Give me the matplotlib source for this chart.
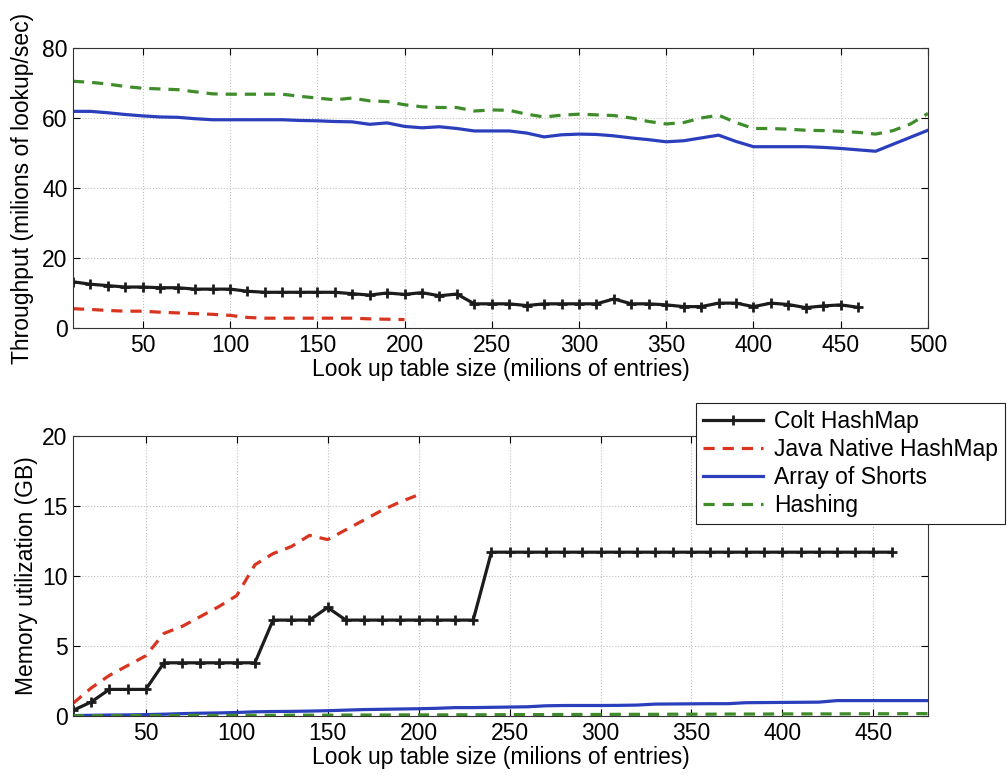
import numpy as np
import matplotlib
matplotlib.use('Agg')
import matplotlib.pyplot as plt

plt.rcParams['font.family'] = ['Liberation Sans', 'DejaVu Sans']
fs = 16.5
plt.rcParams['font.size'] = fs

# Series labels and colours
labels = ['Colt HashMap', 'Java Native HashMap', 'Array of Shorts', 'Hashing']
colors = ['#1c1c1c', '#d8341f', '#2b3fbd', '#3f8c2b']

# Top chart: throughput (millions of lookup/sec)
x_colt = list(range(10, 470, 10))
colt_tp = [13.2, 12.5, 12.1, 11.7, 11.7, 11.5, 11.5, 11.1, 11.1, 11.1,
           10.5, 10.2, 10.2, 10.2, 10.2, 10.2, 9.8, 9.4, 10.0, 9.6,
           10.1, 9.2, 9.7, 6.9, 6.9, 6.9, 6.4, 6.9, 6.9, 6.9,
           6.9, 8.3, 6.9, 6.9, 6.6, 6.1, 6.1, 7.1, 7.1, 6.1,
           7.1, 6.7, 5.8, 6.3, 6.6, 5.9]
x_java = list(range(10, 210, 10))
java_tp = [5.5, 5.3, 5.0, 4.8, 4.8, 4.5, 4.3, 4.1, 3.9, 3.6,
           3.0, 2.8, 2.8, 2.8, 2.8, 2.8, 2.8, 2.6, 2.5, 2.4]
x_full = list(range(10, 510, 10))
shorts_tp = [61.9, 61.9, 61.5, 61.0, 60.6, 60.3, 60.2, 59.8, 59.5, 59.5,
             59.5, 59.5, 59.5, 59.3, 59.2, 59.0, 58.9, 58.2, 58.6, 57.6,
             57.2, 57.5, 57.0, 56.3, 56.3, 56.3, 55.7, 54.6, 55.2, 55.4,
             55.3, 54.9, 54.3, 53.8, 53.2, 53.5, 54.3, 55.1, 53.3, 51.8,
             51.8, 51.8, 51.8, 51.6, 51.3, 50.9, 50.5, 52.5, 54.5, 56.5]
hashing_tp = [70.5, 70.2, 69.7, 69.0, 68.5, 68.3, 68.1, 67.5, 66.9, 66.8,
              66.8, 66.8, 66.8, 66.2, 65.7, 65.2, 65.7, 64.9, 64.7, 63.8,
              63.2, 63.0, 63.0, 62.0, 62.3, 62.2, 61.1, 60.3, 60.8, 61.1,
              60.9, 60.7, 60.0, 59.0, 58.3, 58.7, 60.0, 60.8, 58.7, 57.0,
              57.0, 56.8, 56.5, 56.4, 56.2, 55.9, 55.4, 56.4, 58.3, 61.3]

# Bottom chart: memory utilization (GB)
colt_mem = [0.4, 1.0, 1.9, 1.9, 1.9, 3.8, 3.8, 3.8, 3.8, 3.8,
            3.8, 6.85, 6.85, 6.85, 7.75, 6.85, 6.85, 6.85, 6.85, 6.85,
            6.85, 6.85, 6.85, 11.7, 11.7, 11.7, 11.7, 11.7, 11.7, 11.7,
            11.7, 11.7, 11.7, 11.7, 11.7, 11.7, 11.7, 11.7, 11.7, 11.7,
            11.7, 11.7, 11.7, 11.7, 11.7, 11.7]
java_mem = [0.9, 2.0, 2.9, 3.6, 4.3, 5.9, 6.4, 7.1, 7.8, 8.6,
            10.8, 11.6, 12.1, 12.9, 12.6, 13.3, 14.0, 14.7, 15.3, 15.8]
x_mem = list(range(10, 490, 10))
shorts_mem = [0.03, 0.05, 0.07, 0.08, 0.10, 0.13, 0.17, 0.20, 0.22, 0.25,
              0.30, 0.32, 0.33, 0.35, 0.38, 0.42, 0.46, 0.48, 0.50, 0.52,
              0.55, 0.60, 0.60, 0.62, 0.64, 0.66, 0.73, 0.75, 0.75, 0.75,
              0.76, 0.78, 0.85, 0.86, 0.87, 0.88, 0.88, 0.95, 0.96, 0.97,
              0.98, 0.99, 1.10, 1.10, 1.10, 1.10, 1.10, 1.10]
hashing_mem = [0.02, 0.02, 0.02, 0.03, 0.03, 0.03, 0.04, 0.04, 0.04, 0.05,
               0.05, 0.05, 0.06, 0.06, 0.06, 0.07, 0.07, 0.07, 0.08, 0.08,
               0.08, 0.09, 0.09, 0.09, 0.10, 0.10, 0.10, 0.11, 0.11, 0.11,
               0.12, 0.12, 0.12, 0.13, 0.13, 0.13, 0.14, 0.14, 0.14, 0.15,
               0.15, 0.15, 0.15, 0.16, 0.16, 0.16, 0.17, 0.17]

fig = plt.figure(figsize=(10.08, 7.77), dpi=100)
ax1 = fig.add_axes([0.0724, 0.5779, 0.8482, 0.3603])
ax2 = fig.add_axes([0.0724, 0.0785, 0.8482, 0.3604])

lw = 2.3
dash = (3.5, 2.5)


def draw(ax, colt, java, shorts, hashing, xs_full):
    ax.plot(x_colt, colt, color=colors[0], lw=lw, marker='+', ms=7, mew=2,
            label=labels[0])
    ax.plot(x_java, java, color=colors[1], lw=lw, dashes=dash, label=labels[1])
    ax.plot(xs_full, shorts, color=colors[2], lw=lw, label=labels[2])
    ax.plot(xs_full, hashing, color=colors[3], lw=lw, dashes=dash, label=labels[3])
    ax.grid(True, linestyle=':', color='#c0c0c0', linewidth=0.8)
    ax.tick_params(direction='in', top=True, right=True, length=5,
                   labelsize=fs, pad=4)
    for s in ax.spines.values():
        s.set_linewidth(0.8)
        s.set_color('#333333')
    ax.set_xlabel('Look up table size (milions of entries)', fontsize=fs,
                  labelpad=1)


draw(ax1, colt_tp, java_tp, shorts_tp, hashing_tp, x_full)
ax1.set_xlim(10, 500)
ax1.set_ylim(0, 80)
ax1.set_xticks(range(50, 501, 50))
ax1.set_yticks(range(0, 81, 20))
ax1.set_ylabel('Throughput (milions of lookup/sec)', fontsize=fs, labelpad=6)

draw(ax2, colt_mem, java_mem, shorts_mem, hashing_mem, x_mem)
ax2.set_xlim(10, 480)
ax2.set_ylim(0, 20)
ax2.set_xticks(range(50, 451, 50))
ax2.set_yticks(range(0, 21, 5))
ax2.set_ylabel('Memory utilization (GB)', fontsize=fs, labelpad=3)

leg = ax2.legend(loc='upper right', bbox_to_anchor=(1005 / 1008, 1 - 403 / 777),
                 bbox_transform=fig.transFigure, fontsize=fs, frameon=True,
                 fancybox=False, framealpha=1, edgecolor='#222222',
                 handlelength=2.6, labelspacing=0.22, borderpad=0.3,
                 handletextpad=0.5, borderaxespad=0)
leg.get_frame().set_linewidth(0.8)

fig.savefig('out.png', dpi=100)
